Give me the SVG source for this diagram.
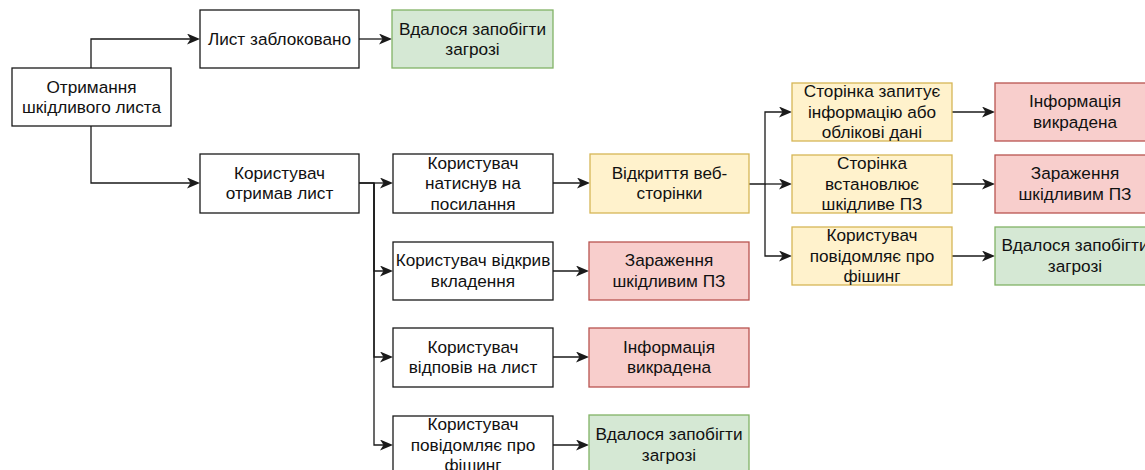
<svg xmlns="http://www.w3.org/2000/svg" width="1145" height="470" viewBox="0 0 1145 470">
<style>
rect{stroke-width:1.3}
.w{fill:#ffffff;stroke:#1a1a1a}
.g{fill:#d5e8d4;stroke:#82b366}
.y{fill:#fff2cc;stroke:#d6b656}
.r{fill:#f8cecc;stroke:#b85450}
text{font-family:"Liberation Sans",Arial,sans-serif;font-size:17.2px;fill:#111;text-anchor:middle}
.c path{fill:none;stroke:#1a1a1a;stroke-width:1.3}
</style>
<defs>
<marker id="a" viewBox="0 0 13 11" refX="10" refY="5.5" markerWidth="13" markerHeight="11" markerUnits="userSpaceOnUse" orient="auto">
<path d="M0,0 L13,5.5 L0,11 L3.5,5.5 Z" fill="#1a1a1a"/>
</marker>
</defs>
<rect width="1145" height="470" fill="#ffffff"/>
<g class="c" id="connectors">
<path d="M91,68 V39 H197" marker-end="url(#a)"/>
<path d="M91,126 V183 H197" marker-end="url(#a)"/>
<path d="M359,39 H389" marker-end="url(#a)"/>
<path d="M359,183 H390" marker-end="url(#a)"/>
<path d="M359,183 H374 V271 H390" marker-end="url(#a)"/>
<path d="M374,183 V357 H390" marker-end="url(#a)"/>
<path d="M374,183 V445 H390" marker-end="url(#a)"/>
<path d="M553,183 H587" marker-end="url(#a)"/>
<path d="M749,184 H765 V112 H789" marker-end="url(#a)"/>
<path d="M765,184 H789" marker-end="url(#a)"/>
<path d="M765,184 V256 H789" marker-end="url(#a)"/>
<path d="M952,112 H992" marker-end="url(#a)"/>
<path d="M952,184 H992" marker-end="url(#a)"/>
<path d="M952,256 H992" marker-end="url(#a)"/>
<path d="M553,271 H586" marker-end="url(#a)"/>
<path d="M553,357 H586" marker-end="url(#a)"/>
<path d="M553,445 H586" marker-end="url(#a)"/>
</g>
<g id="n1"><rect class="w" x="12" y="68" width="159" height="58"/><text x="91.5" y="92.5">Отримання</text><text x="91.5" y="113">шкідливого листа</text></g>
<g id="n2"><rect class="w" x="200" y="10" width="159" height="58"/><text x="279.5" y="45">Лист заблоковано</text></g>
<g id="n3"><rect class="g" x="392" y="10" width="161" height="58"/><text x="472.5" y="34.5">Вдалося запобігти</text><text x="472.5" y="55">загрозі</text></g>
<g id="n4"><rect class="w" x="200" y="154" width="159" height="59"/><text x="279.5" y="178.5">Користувач</text><text x="279.5" y="199">отримав лист</text></g>
<g id="n5"><rect class="w" x="393" y="154" width="160" height="59"/><text x="473" y="168.5">Користувач</text><text x="473" y="189">натиснув на</text><text x="473" y="209.5">посилання</text></g>
<g id="n6"><rect class="y" x="590" y="154" width="159" height="59"/><text x="669.5" y="178.5">Відкриття веб-</text><text x="669.5" y="199">сторінки</text></g>
<g id="n7"><rect class="y" x="792" y="83" width="160" height="58"/><text x="872" y="97">Сторінка запитує</text><text x="872" y="117.5">інформацію або</text><text x="872" y="138">облікові дані</text></g>
<g id="n8"><rect class="y" x="792" y="155" width="160" height="58"/><text x="872" y="169">Сторінка</text><text x="872" y="189.5">встановлює</text><text x="872" y="210">шкідливе ПЗ</text></g>
<g id="n9"><rect class="y" x="792" y="227" width="160" height="58"/><text x="872" y="241">Користувач</text><text x="872" y="261.5">повідомляє про</text><text x="872" y="282">фішинг</text></g>
<g id="n10"><rect class="r" x="995" y="83" width="160" height="58"/><text x="1075" y="107">Інформація</text><text x="1075" y="127.5">викрадена</text></g>
<g id="n11"><rect class="r" x="995" y="155" width="160" height="58"/><text x="1075" y="179">Зараження</text><text x="1075" y="199.5">шкідливим ПЗ</text></g>
<g id="n12"><rect class="g" x="995" y="227" width="160" height="58"/><text x="1075" y="251">Вдалося запобігти</text><text x="1075" y="271.5">загрозі</text></g>
<g id="n13"><rect class="w" x="393" y="242" width="160" height="58"/><text x="473" y="266">Користувач відкрив</text><text x="473" y="286.5">вкладення</text></g>
<g id="n14"><rect class="r" x="589" y="242" width="160" height="58"/><text x="669" y="266">Зараження</text><text x="669" y="286.5">шкідливим ПЗ</text></g>
<g id="n15"><rect class="w" x="393" y="328" width="160" height="59"/><text x="473" y="352.5">Користувач</text><text x="473" y="373">відповів на лист</text></g>
<g id="n16"><rect class="r" x="589" y="328" width="160" height="59"/><text x="669" y="352.5">Інформація</text><text x="669" y="373">викрадена</text></g>
<g id="n17"><rect class="w" x="393" y="416" width="160" height="58"/><text x="473" y="430">Користувач</text><text x="473" y="450.5">повідомляє про</text><text x="473" y="471">фішинг</text></g>
<g id="n18"><rect class="g" x="589" y="415" width="160" height="58"/><text x="669" y="440">Вдалося запобігти</text><text x="669" y="460.5">загрозі</text></g>
</svg>
